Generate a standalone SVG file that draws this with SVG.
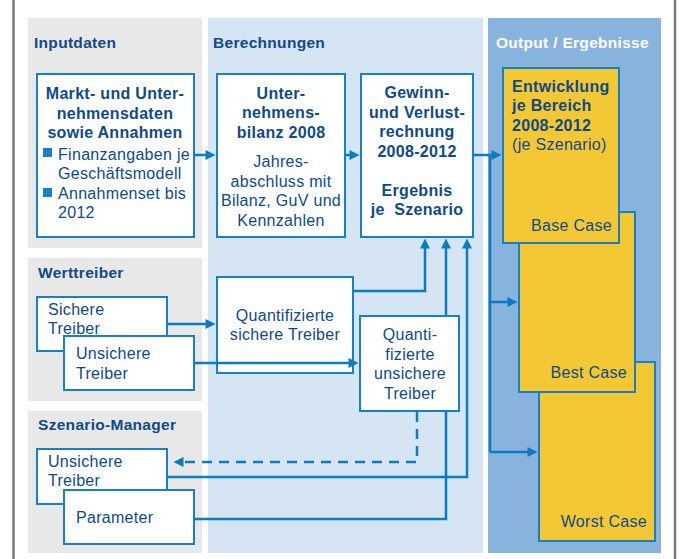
<svg xmlns="http://www.w3.org/2000/svg" width="681" height="559" viewBox="0 0 681 559">
  <style>
    .bg-gray { fill: #e8e8e8; }
    .bg-calc { fill: #d5e5f3; }
    .bg-out { fill: #88b3dd; }
    .frame { stroke: #7a7a7a; stroke-width: 2.5; }
    .box { fill: #ffffff; stroke: #1880c4; stroke-width: 2; }
    .case { fill: #f4c834; stroke: #1880c4; stroke-width: 2; }
    text { font-family: "Liberation Sans", Arial, sans-serif; fill: #0f4a87; letter-spacing: 0.3px; }
    .hd { font-size: 15.5px; font-weight: bold; }
    .hd-w { fill: #ffffff; }
    .b { font-size: 16px; font-weight: bold; }
    .r { font-size: 16px; }
    .c { text-anchor: middle; }
    .e { text-anchor: end; }
    .pre { white-space: pre; }
    .wire { fill: none; stroke: #0a7cc2; stroke-width: 2.5; marker-end: url(#arrow); }
    .plain { fill: none; stroke: #0a7cc2; stroke-width: 2.5; }
    .dash { stroke-dasharray: 10 7; }
    .bullet { fill: #1880c4; }
  </style>
  <defs>
    <marker id="arrow" viewBox="0 0 10 10" refX="0.5" refY="5" markerWidth="11" markerHeight="10" markerUnits="userSpaceOnUse" orient="auto">
      <path d="M0,0 L10,5 L0,10 z" fill="#0a7cc2"/>
    </marker>
  </defs>

  <rect width="681" height="559" fill="#ffffff"/>

  <!-- outer frame -->
  <line class="frame" x1="13.5" y1="0" x2="13.5" y2="559"/>
  <line class="frame" x1="675" y1="0" x2="675" y2="559"/>

  <!-- column panels -->
  <g id="panels">
    <rect class="bg-gray" x="28" y="18" width="174" height="230"/>
    <rect class="bg-gray" x="28" y="258" width="174" height="143"/>
    <rect class="bg-gray" x="28" y="411" width="174" height="142"/>
    <rect class="bg-calc" x="208" y="18" width="275" height="535"/>
    <rect class="bg-out" x="488" y="18" width="173" height="535"/>
    <text class="hd" x="34" y="48">Inputdaten</text>
    <text class="hd" x="213" y="48">Berechnungen</text>
    <text class="hd hd-w" x="496" y="48">Output / Ergebnisse</text>
    <text class="hd" x="38" y="278">Werttreiber</text>
    <text class="hd" x="38" y="430">Szenario-Manager</text>
  </g>

  <!-- input data -->
  <g id="markt">
    <rect class="box" x="37" y="74" width="157" height="163"/>
    <text class="b c" x="115" y="99">Markt- und Unter-</text>
    <text class="b c" x="115" y="118.5">nehmensdaten</text>
    <text class="b c" x="115" y="138">sowie Annahmen</text>
    <rect class="bullet" x="43" y="148" width="9" height="9"/>
    <text class="r" x="58" y="160">Finanzangaben je</text>
    <text class="r" x="58" y="179">Geschäftsmodell</text>
    <rect class="bullet" x="43" y="188" width="9" height="9"/>
    <text class="r" x="58" y="198.5">Annahmenset bis</text>
    <text class="r" x="58" y="217.5">2012</text>
  </g>

  <!-- calculations -->
  <g id="bilanz">
    <rect class="box" x="217" y="74" width="128" height="163"/>
    <text class="b c" x="281" y="98.5">Unter-</text>
    <text class="b c" x="281" y="118">nehmens-</text>
    <text class="b c" x="281" y="137.5">bilanz 2008</text>
    <text class="r c" x="281" y="167">Jahres-</text>
    <text class="r c" x="281" y="186.5">abschluss mit</text>
    <text class="r c" x="281" y="206">Bilanz, GuV und</text>
    <text class="r c" x="281" y="225.5">Kennzahlen</text>
  </g>

  <g id="guv">
    <rect class="box" x="361" y="74" width="112" height="163"/>
    <text class="b c" x="417" y="98">Gewinn-</text>
    <text class="b c" x="417" y="117.5">und Verlust-</text>
    <text class="b c" x="417" y="137">rechnung</text>
    <text class="b c" x="417" y="156.5">2008-2012</text>
    <text class="b c" x="417" y="195.5">Ergebnis</text>
    <text class="b c pre" x="417" y="214.5">je  Szenario</text>
  </g>

  <!-- value drivers -->
  <g id="sichere-treiber">
    <rect class="box" x="37" y="297" width="130" height="54"/>
    <text class="r" x="48" y="315">Sichere</text>
    <text class="r" x="48" y="334">Treiber</text>
  </g>
  <g id="unsichere-treiber">
    <rect class="box" x="64" y="336" width="130" height="54"/>
    <text class="r" x="76" y="359">Unsichere</text>
    <text class="r" x="76" y="378.5">Treiber</text>
  </g>

  <g id="quant-sicher">
    <rect class="box" x="217" y="277" width="136" height="96"/>
    <text class="r c" x="285" y="321">Quantifizierte</text>
    <text class="r c" x="285" y="340">sichere Treiber</text>
  </g>
  <g id="quant-unsicher">
    <rect class="box" x="360" y="316" width="99" height="95"/>
    <text class="r c" x="410" y="340">Quanti-</text>
    <text class="r c" x="410" y="359.5">fizierte</text>
    <text class="r c" x="410" y="379">unsichere</text>
    <text class="r c" x="410" y="398.5">Treiber</text>
  </g>

  <!-- scenario manager -->
  <g id="sz-unsichere-treiber">
    <rect class="box" x="37" y="449" width="130" height="55"/>
    <text class="r" x="48" y="467">Unsichere</text>
    <text class="r" x="48" y="486">Treiber</text>
  </g>
  <g id="parameter">
    <rect class="box" x="64" y="490" width="130" height="54"/>
    <text class="r" x="76" y="523">Parameter</text>
  </g>

  <!-- output cases, stacked back to front -->
  <g id="worst-case">
    <rect class="case" x="539" y="362" width="116" height="179"/>
    <text class="r e" x="647" y="527">Worst Case</text>
  </g>
  <g id="best-case">
    <rect class="case" x="519" y="212" width="116" height="180"/>
    <text class="r e" x="627" y="378">Best Case</text>
  </g>
  <g id="base-case">
    <rect class="case" x="503" y="68" width="116" height="175"/>
    <text class="b" x="512" y="92">Entwicklung</text>
    <text class="b" x="512" y="111">je Bereich</text>
    <text class="b" x="512" y="130.5">2008-2012</text>
    <text class="r" x="512" y="149.5">(je Szenario)</text>
    <text class="r e" x="612" y="231">Base Case</text>
  </g>

  <!-- connectors -->
  <g id="connectors">
    <path class="wire" d="M194,155 H206"/>
    <path class="wire" d="M345,155 H350"/>
    <path class="wire" d="M473,155 H492"/>
    <path class="plain" d="M490,155 V452"/>
    <path class="wire" d="M490,302 H508"/>
    <path class="wire" d="M490,452 H528"/>
    <path class="wire" d="M167,324 H206"/>
    <path class="wire" d="M194,363 H349"/>
    <path class="wire" d="M353,291 H425 V248"/>
    <path class="wire" d="M446,316 V248"/>
    <path class="plain" d="M194,519 H446 V411"/>
    <path class="wire" d="M167,477 H467 V248"/>
    <path class="wire dash" d="M417,412 V462 H183"/>
  </g>
</svg>
